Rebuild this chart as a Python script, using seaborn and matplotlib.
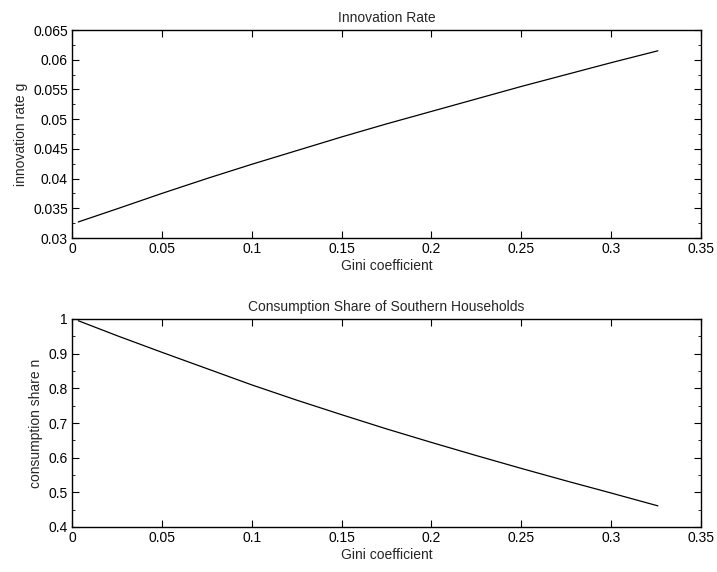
import matplotlib
matplotlib.use("Agg")
import matplotlib.pyplot as plt
from matplotlib.ticker import MultipleLocator
import seaborn as sns
import pandas as pd

gini = [0.0035, 0.025, 0.05, 0.075, 0.10, 0.125, 0.15, 0.175, 0.20, 0.225, 0.25, 0.275, 0.30, 0.326]
innovation_g = [0.0327, 0.0349, 0.0375, 0.0400, 0.0424, 0.0447, 0.0470, 0.0492, 0.0513,
                0.0534, 0.0555, 0.0575, 0.0595, 0.0615]
consumption_n = [0.995, 0.952, 0.904, 0.857, 0.810, 0.766, 0.724, 0.683, 0.644,
                 0.606, 0.569, 0.533, 0.498, 0.461]

x_ticks = [0, 0.05, 0.1, 0.15, 0.2, 0.25, 0.3, 0.35]
x_labels = ["0", "0.05", "0.1", "0.15", "0.2", "0.25", "0.3", "0.35"]
g_ticks = [0.03, 0.035, 0.04, 0.045, 0.05, 0.055, 0.06, 0.065]
g_labels = ["0.03", "0.035", "0.04", "0.045", "0.05", "0.055", "0.06", "0.065"]
n_ticks = [0.4, 0.5, 0.6, 0.7, 0.8, 0.9, 1.0]
n_labels = ["0.4", "0.5", "0.6", "0.7", "0.8", "0.9", "1"]

sns.set_theme(style="ticks")
plt.rcParams['font.family'] = ['Liberation Sans', 'DejaVu Sans']

df = pd.DataFrame({"gini": gini, "g": innovation_g, "n": consumption_n})

fig = plt.figure(figsize=(7.17, 5.72), dpi=100)
W, H = 717, 572
ax1 = fig.add_axes([72 / W, 1 - 238 / H, (701 - 72) / W, (238 - 30) / H])
ax2 = fig.add_axes([72 / W, 1 - 527 / H, (701 - 72) / W, (527 - 319) / H])

specs = [
    (ax1, "g", "Innovation Rate", "innovation rate g", g_ticks, g_labels, 0.0025),
    (ax2, "n", "Consumption Share of Southern Households", "consumption share n", n_ticks, n_labels, 0.05),
]
for ax, col, title, ylabel, yt, yl, minor in specs:
    sns.lineplot(data=df, x="gini", y=col, ax=ax, color="black", linewidth=0.9)
    ax.set_xlim(0, 0.35)
    ax.set_ylim(yt[0], yt[-1])
    ax.set_xticks(x_ticks)
    ax.set_xticklabels(x_labels)
    ax.set_yticks(yt)
    ax.set_yticklabels(yl)
    ax.yaxis.set_minor_locator(MultipleLocator(minor))
    ax.tick_params(which="both", direction="in", top=True, right=True,
                   labelsize=10, colors="black", pad=3)
    ax.tick_params(which="major", length=5, width=0.8)
    ax.tick_params(which="minor", length=2.5, width=0.6)
    ax.tick_params(axis="x", which="minor", bottom=False, top=False)
    for s in ax.spines.values():
        s.set_visible(True)
        s.set_linewidth(1.0)
        s.set_color("black")
    ax.set_title(title, fontsize=10, pad=6)
    ax.set_xlabel("Gini coefficient", fontsize=10, labelpad=2)
    ax.set_ylabel(ylabel, fontsize=10, labelpad=4)

fig.savefig("out.png", dpi=100)
